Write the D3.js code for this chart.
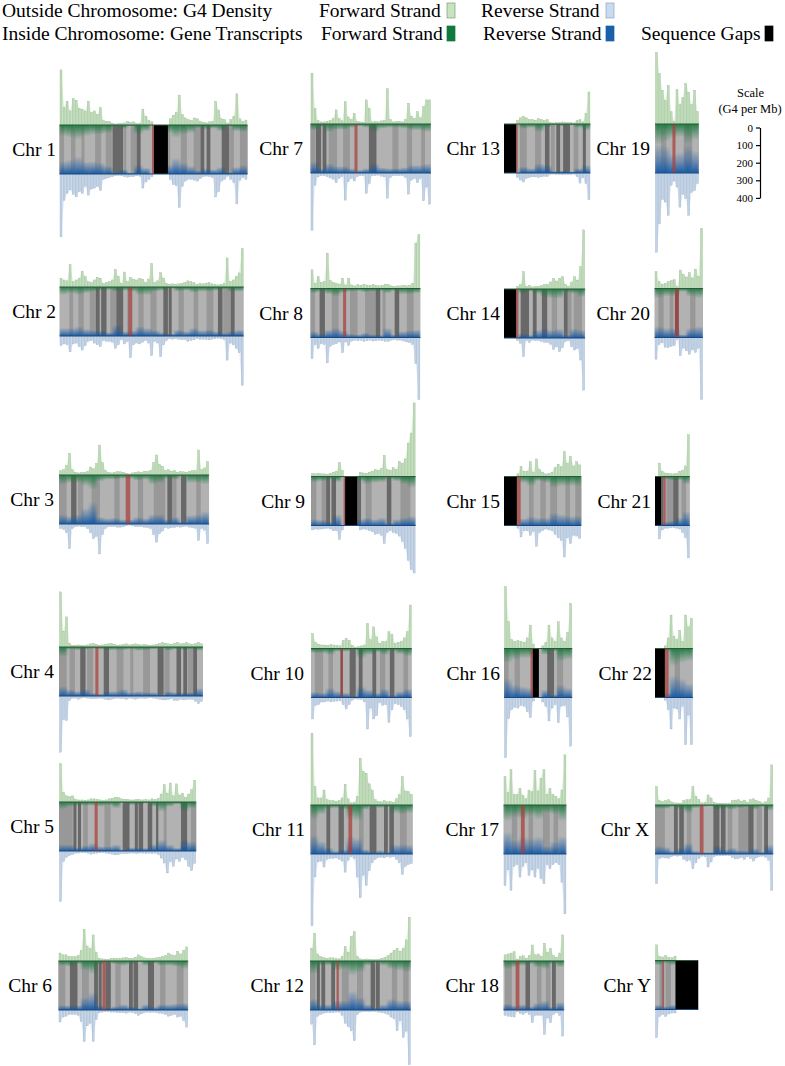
<!DOCTYPE html>
<html>
<head>
<meta charset="utf-8">
<script src="https://cdn.jsdelivr.net/npm/d3@7"></script>
<style>
  body { margin: 0; background: #fff; }
  text { font-family: "Liberation Serif", serif; fill: #000; }
</style>
</head>
<body>
<svg id="chart" width="785" height="1066"></svg>
<script>
var chrNames = ["Chr 1","Chr 2","Chr 3","Chr 4","Chr 5","Chr 6","Chr 7","Chr 8","Chr 9","Chr 10","Chr 11","Chr 12",
  "Chr 13","Chr 14","Chr 15","Chr 16","Chr 17","Chr 18","Chr 19","Chr 20","Chr 21","Chr 22","Chr X","Chr Y"];
var chrLengthMb = [248,243,198,190,181,171,159,145,138,133,135,133,114,107,102,90,83,80,58,64,46,50,156,57];
var centromereMb = [[122,124.5],[91,96],[88,94],[48,52],[47,51],[58,62],[58,62],[43,47],[43,45],[39,42],[50,55],[35,38],
  [16,18],[16,19],[17,22],[35,38],[23,28],[16,21],[23,27],[27,32],[11,14],[13,18],[59,64],[10,12]];
var gapMb = [[124.5,143],[],[],[],[],[],[],[],[45,61],[],[],[],[0,16],[0,16],[0,17],[38,46],[],[],[],[],[0,8],[0,13],[],[27,57]];
var darkBandMb = [
  [[70,84],[102,107],[186,191],[194,199],[214,224]],
  [[48,53],[55,62],[75,84],[90,91],[137,143],[144,148],[209,215],[226,231]],
  [[16,23],[143,149],[161,168]],
  [[28,35],[59,66],[130,138],[155,161],[164,169],[177,182]],
  [[19,23],[25,29],[84,93],[100,104],[105,111],[117,123],[128,131],[161,169]],
  [[15,25],[47,52],[53,57],[62,69],[93,98],[99,105],[118,126]],
  [[7,14],[16,21],[77,87]],
  [[12,19],[86,92],[111,117]],
  [[20,25],[27,33],[61,66],[100,106]],
  [[39,42],[51,59],[63,68],[81,86],[104,110]],
  [[21,26],[37,44],[78,87],[97,102],[104,110]],
  [[9,13],[15,20],[28,33],[80,86],[87,92]],
  [[54,60],[69,74],[78,87],[104,108]],
  [[22,33],[38,43],[50,57],[79,84]],
  [],
  [[57,66]],
  [],
  [[29,35],[64,69]],
  [],
  [[27,32]],
  [[8,11],[24,31]],
  [],
  [[25,30],[32,38],[77,85],[87,93],[123,130],[144,149]],
  [[9,10]]
];
var midBandMb = [
  [[0,6],[15,21],[29,33],[47,55],[61,69],[85,88],[94,102],[143,146],[160,168],[177,186],[225,230],[238,248]],
  [[13,18],[25,32],[40,48],[67,75],[104,111],[120,128],[157,164],[177,183],[194,203],[216,226]],
  [[0,10],[25,32],[43,54],[73,80],[104,111],[125,140],[149,155],[181,187]],
  [[0,10],[14,21],[37,45],[76,85],[94,98],[111,120],[139,146],[170,177]],
  [[0,18],[32,38],[60,68],[138,142],[174,181]],
  [[0,9],[31,40],[75,82],[134,141],[156,165]],
  [[0,6],[24,35],[43,52],[108,116],[127,134],[146,151]],
  [[0,6],[28,37],[52,62],[72,86],[95,99],[127,136]],
  [[0,7],[14,20],[72,80],[118,131]],
  [[5,16],[23,29],[91,98],[122,128]],
  [[0,8],[64,70],[118,127]],
  [[0,7],[42,51],[62,70],[108,115],[123,130]],
  [[21,30],[41,49],[62,67],[92,98]],
  [[63,70],[84,89],[92,103]],
  [[33,39],[48,55],[61,70],[81,87],[94,102]],
  [[0,6],[14,21],[70,78]],
  [[11,18],[33,39],[52,61],[66,72]],
  [[2,11],[44,50],[56,62]],
  [[8,15],[38,49]],
  [[5,12],[20,25],[47,54]],
  [[15,24],[35,41]],
  [[26,33]],
  [[0,13],[42,48],[96,102],[110,123],[134,141]],
  [[6,9],[14,21]]
];
// G4 per Mb, read per ~4 Mb along each chromosome
var g4Forward = [
  [313,100,135,80,150,140,95,90,80,135,70,80,60,100,25,22,20,10,6,8,8,12,20,15,18,8,10,90,50,25,18,0,0,0,0,0,35,55,70,170,60,40,30,25,40,35,20,15,12,18,20,135,85,35,30,10,30,50,177,35,20,28],
  [50,40,35,127,30,40,50,90,60,30,25,40,55,50,20,25,30,40,100,60,20,85,30,55,45,40,50,45,25,45,133,25,35,82,50,20,15,18,15,18,20,25,35,30,25,15,20,18,22,25,18,15,12,15,20,165,30,40,60,80,218],
  [25,30,55,123,30,15,12,15,15,20,45,35,65,170,70,25,15,12,15,20,18,15,10,6,12,15,18,15,22,20,25,70,114,60,50,25,30,22,25,15,20,18,15,22,25,25,142,30,40,76],
  [313,90,171,20,10,10,12,10,8,12,18,20,15,10,12,15,18,20,15,10,12,15,18,12,15,18,14,12,15,12,10,12,15,20,25,22,18,15,22,25,18,20,25,18,15,20,25,18],
  [218,55,35,30,35,15,12,12,10,12,18,18,15,12,8,12,18,22,28,25,18,15,15,12,12,15,14,12,15,12,18,14,20,45,99,50,108,35,103,40,50,25,45,70,124],
  [45,35,35,25,25,25,30,60,180,85,70,148,50,15,12,10,10,15,15,14,15,18,20,15,15,22,35,25,18,15,14,15,18,22,25,30,45,35,30,55,40,60,80],
  [289,89,20,12,12,15,20,30,80,30,18,127,40,25,61,15,12,10,137,89,12,15,12,18,20,200,25,12,15,15,12,25,118,45,30,70,35,99,137,137],
  [106,30,68,35,40,201,45,35,30,25,59,20,59,20,15,22,18,25,20,18,22,18,15,18,25,22,15,12,15,15,18,15,18,30,258,306],
  [18,15,18,15,15,12,18,25,30,80,35,0,0,0,0,0,25,20,18,25,30,40,35,45,120,40,35,50,40,85,75,100,190,247,418],
  [85,35,25,20,20,18,22,20,18,15,45,57,47,18,8,10,15,20,142,50,123,66,30,40,40,95,80,30,35,40,60,95,247],
  [408,105,40,40,85,30,25,25,22,25,40,118,35,12,15,50,266,190,180,120,85,30,20,18,25,18,20,15,35,60,162,80,76,60],
  [72,158,40,25,20,15,18,18,15,12,25,82,50,139,167,25,12,10,12,10,8,8,10,15,20,30,45,60,72,55,72,120,249],
  [0,0,0,0,20,35,44,35,25,25,22,30,25,20,25,8,6,8,8,12,10,8,8,6,20,25,12,60,182],
  [0,0,0,0,15,25,99,15,20,12,15,15,20,25,25,40,60,45,60,70,25,15,40,70,50,127,336],
  [0,0,0,0,15,57,30,30,85,25,100,40,25,15,18,25,50,70,55,142,75,114,60,85,66],
  [351,152,50,40,45,40,35,60,133,25,0,0,15,35,133,60,40,152,60,40,90,256],
  [161,70,200,60,60,95,55,35,85,75,196,80,152,200,60,95,60,50,35,85,285],
  [35,40,45,53,10,25,30,15,30,91,35,40,25,101,50,72,30,20,45,148],
  [407,287,192,135,220,70,15,196,110,150,230,180,110,192,70],
  [95,40,25,30,40,45,50,10,105,80,65,90,60,110,70,342],
  [0,76,30,20,18,15,15,18,30,35,60,237],
  [0,0,0,15,60,190,70,50,104,40,190,123,171],
  [105,25,20,25,30,18,12,12,10,25,30,30,105,50,30,12,15,57,40,15,10,10,10,8,8,25,28,30,22,28,15,30,35,25,20,12,18,40,228],
  [89,22,20,28,18,15,25,0,0,0,0,0,0,0]
];
var g4Reverse = [
  [357,150,110,90,115,130,100,110,70,120,85,80,70,95,30,25,20,15,10,8,10,15,18,15,15,10,12,80,45,30,15,0,0,0,0,0,30,60,65,190,70,40,30,30,35,40,25,15,12,15,20,130,100,40,30,12,30,50,170,35,20,30],
  [55,45,50,90,45,40,60,80,55,30,25,40,50,60,25,30,30,35,70,50,20,45,30,123,50,40,45,35,25,40,112,30,40,118,50,25,15,18,15,18,20,20,30,25,22,15,18,18,20,22,18,15,12,15,20,137,40,50,70,95,280],
  [25,30,50,140,25,15,12,15,15,25,50,84,70,170,60,25,15,15,15,18,18,15,10,6,10,15,15,15,18,20,25,60,103,55,40,20,25,20,20,15,18,15,12,18,20,25,93,25,35,112],
  [319,135,139,25,12,12,18,12,10,12,15,15,15,12,14,18,22,18,15,12,15,15,20,12,15,18,14,12,15,12,10,12,15,18,22,22,20,15,25,25,18,22,20,18,20,30,44,30],
  [287,60,35,25,20,12,12,10,10,12,18,15,12,10,8,12,15,18,22,20,15,15,15,12,12,15,12,12,14,12,15,12,18,40,68,125,60,87,45,59,35,50,87,112,70],
  [68,40,35,25,25,25,30,65,179,90,75,179,55,15,12,10,10,12,12,14,15,15,18,12,15,20,30,22,15,12,14,12,15,18,20,25,35,30,25,40,35,60,97],
  [325,70,22,15,15,20,28,35,55,30,20,154,50,30,45,20,15,15,116,60,15,15,12,18,22,143,25,15,15,15,15,25,120,40,30,55,30,158,80,177],
  [120,40,63,35,40,144,50,40,35,25,87,25,45,20,15,18,15,22,18,15,20,18,15,18,22,22,15,12,15,15,20,25,30,40,148,353],
  [25,20,22,20,18,15,20,30,30,80,25,0,0,0,0,0,25,20,22,30,35,50,45,55,103,40,30,40,45,60,90,130,198,250,270],
  [122,45,40,25,25,20,25,22,20,18,40,65,40,15,8,10,12,25,179,60,122,103,30,45,40,141,70,35,40,50,70,122,222],
  [407,130,45,40,74,30,25,25,22,30,40,103,35,15,25,131,249,120,179,95,50,30,20,18,22,15,18,15,30,50,116,70,60,55],
  [80,198,35,25,18,15,15,15,12,12,30,75,95,118,175,25,12,10,10,10,8,8,12,15,18,25,40,50,118,60,156,120,311],
  [0,0,0,0,25,40,51,30,25,22,22,25,22,18,20,8,6,8,8,10,8,8,8,6,20,57,25,60,152],
  [0,0,0,0,15,30,106,15,25,12,15,15,20,25,25,35,65,50,78,55,20,15,50,68,60,125,296],
  [0,0,0,0,15,65,30,30,55,35,118,40,30,20,25,30,50,70,85,179,70,103,55,60,74],
  [342,120,70,55,60,45,50,80,114,20,0,0,25,50,133,60,40,143,50,45,110,276],
  [179,90,207,70,60,131,70,50,122,90,131,80,141,169,60,84,60,50,60,160,340],
  [30,35,38,40,10,20,25,15,25,72,30,30,30,139,45,72,25,15,30,148],
  [450,289,150,165,241,70,45,80,194,120,146,241,110,100,60],
  [123,40,30,55,57,50,45,10,104,60,75,95,70,85,60,352],
  [0,76,25,15,15,12,12,15,20,40,70,184],
  [0,0,0,15,70,179,60,65,122,50,268,100,268],
  [169,25,20,22,25,15,10,12,10,30,40,35,84,50,25,12,15,74,45,15,10,10,10,8,8,20,28,25,20,30,15,25,40,22,15,12,18,35,207],
  [160,40,30,40,25,20,20,0,0,0,0,0,0,0]
];
// relative transcript density, read per ~10 Mb
var transcriptsForward = [
  [35,40,45,35,30,30,25,6,12,4,30,20,0,0,25,40,30,25,10,15,12,20,5,20,22],
  [25,20,25,20,15,12,10,15,12,15,25,25,15,12,6,15,12,18,15,15,12,8,15,15],
  [30,25,25,35,45,20,15,15,12,12,18,15,30,25,12,15,6,25,25,30],
  [30,8,10,8,6,8,10,10,10,8,12,10,8,5,12,8,10,8,12],
  [22,15,12,12,12,15,10,20,4,10,8,5,15,30,15,8,30,20],
  [15,18,10,30,40,12,6,10,15,10,5,15,8,15,15,18,25],
  [20,10,25,18,18,12,8,12,25,15,12,12,15,20,20,25],
  [15,10,18,25,15,10,8,12,10,8,15,8,18,18,15],
  [18,15,10,18,0,0,15,25,20,18,8,15,25,35],
  [15,15,20,10,10,5,30,20,12,20,8,18,25],
  [45,30,12,10,15,45,50,15,8,10,8,25,30,25],
  [40,15,15,30,25,45,35,15,6,15,25,30,35],
  [0,0,15,12,25,10,5,8,5,12,20],
  [0,0,15,8,15,25,30,30,12,15,25],
  [0,5,20,30,15,20,35,30,30,30],
  [45,35,30,30,0,20,10,40,35],
  [50,40,45,35,45,25,30,50],
  [25,20,15,10,20,25,10,20],
  [65,55,45,40,60,50],
  [30,25,25,10,25,30],
  [0,10,12,12,25],
  [0,10,55,45,40],
  [12,12,6,15,25,10,6,5,15,12,15,10,8,15,6,18],
  [15,8,15,0,0,0]
];
var transcriptsReverse = [
  [40,45,55,40,40,35,25,6,15,5,30,20,0,0,30,50,35,25,12,18,15,22,6,22,28],
  [25,25,30,22,18,18,12,35,15,18,30,25,18,12,8,20,15,25,18,20,15,10,15,20],
  [30,25,30,50,70,22,18,20,15,15,22,18,30,30,15,22,8,28,30,40],
  [30,20,15,22,10,8,15,15,22,12,15,12,12,5,15,12,12,12,25],
  [20,20,12,18,25,15,15,20,5,12,10,10,22,35,20,10,35,30],
  [15,15,15,40,55,15,8,12,18,12,6,18,10,18,18,20,22],
  [35,15,30,22,22,15,10,15,30,18,15,15,18,25,25,30],
  [20,12,25,30,22,12,10,15,10,8,30,10,20,22,25],
  [20,18,12,35,0,0,20,25,20,25,8,20,25,30],
  [18,15,30,20,15,5,35,25,15,28,8,20,28],
  [60,40,20,10,15,55,50,15,8,12,8,30,30,30],
  [35,18,18,30,30,60,40,18,8,18,35,30,30],
  [0,0,20,15,30,25,6,8,5,15,25],
  [0,0,15,10,25,30,25,30,10,30,25],
  [0,5,22,28,25,25,40,35,30,30],
  [60,40,35,30,0,25,10,40,30],
  [70,45,55,50,55,25,40,55],
  [20,15,18,12,22,30,10,25],
  [90,85,60,65,85,70],
  [35,30,30,10,30,35],
  [0,12,15,25,45],
  [0,15,70,60,45],
  [25,22,10,20,35,10,6,6,25,15,20,12,10,18,8,30],
  [15,10,15,0,0,0]
];
var scaleTicks = [0,100,200,300,400];

// layout, measured off the page
var panelLeft = [59.5,59.5,59,59,59,58.5, 310.5,310.5,311,311,310.5,310, 504,504,504,504,503.5,503.5, 655,654.5,655,655,655,655];
var panelTop = [125,287,475,647,802,961, 124,288.5,476.5,648.5,805,961, 124,289,476.5,648.5,805,961, 124,288.5,476.5,648.5,805,960.5];
var labelRight = [56,56,54,54,54,52, 303,303,305,304,305,304, 500,500,500,500,499,499, 650,650,651,652,649,651];
var panelHeight = 49;

var svg = d3.select("#chart");
var defs = svg.append("defs");

function fade(id, color, y1, y2){
  var g = defs.append("linearGradient").attr("id", id).attr("x1",0).attr("x2",0).attr("y1",y1).attr("y2",y2);
  g.append("stop").attr("offset","0%").attr("stop-color",color).attr("stop-opacity",0.95);
  g.append("stop").attr("offset","40%").attr("stop-color",color).attr("stop-opacity",0.55);
  g.append("stop").attr("offset","100%").attr("stop-color",color).attr("stop-opacity",0);
}
fade("fadeGreen","#1a7a3e",0,1);
fade("fadeBlue","#1357a6",1,0);
defs.append("filter").attr("id","soft").attr("x","-5%").attr("width","110%")
  .append("feGaussianBlur").attr("stdDeviation",0.3);
defs.append("filter").attr("id","smear").attr("x","-5%").attr("width","110%")
  .append("feGaussianBlur").attr("stdDeviation","1.3 0");

var xMb = d3.scaleLinear().domain([0,248]).range([0,188]);
var g4Height = d3.scaleLinear().domain([0,400]).range([0,70.4]);
var transcriptDepth = d3.scaleLinear().domain([0,100]).range([0,32]);

function spans(g, rows, cls, color, opacity){
  g.selectAll("rect."+cls).data(rows).join("rect")
    .attr("class",cls)
    .attr("x",function(d){ return xMb(d[0]); })
    .attr("y",0)
    .attr("width",function(d){ return xMb(d[1])-xMb(d[0]); })
    .attr("height",panelHeight)
    .attr("fill",color)
    .attr("fill-opacity",opacity);
}

function g4Marks(g, values, w, cls, sign, fill, edge){
  var base = sign > 0 ? 0 : panelHeight;
  var x = d3.scaleBand().domain(d3.range(values.length)).range([0,w]);
  var y = function(d){ return base - sign*g4Height(d); };
  var area = d3.area()
    .defined(function(d){ return d > 0; })
    .x(function(d,k){ return x(k)+x.bandwidth()/2; })
    .y0(base)
    .y1(y);
  g.append("path").attr("d",area(values)).attr("fill",fill).attr("fill-opacity",0.45);
  var barWidth = Math.min(x.bandwidth(),2);
  g.selectAll("rect."+cls).data(values).join("rect")
    .attr("class",cls)
    .attr("x",function(d,k){ return x(k)+(x.bandwidth()-barWidth)/2; })
    .attr("y",function(d){ return sign > 0 ? y(d) : base; })
    .attr("width",barWidth)
    .attr("height",function(d){ return g4Height(d); })
    .attr("fill",fill)
    .attr("stroke",edge)
    .attr("stroke-width",0.35);
}

function transcriptMarks(g, values, w, cls, sign, url){
  var x = d3.scaleBand().domain(d3.range(values.length)).range([0,w]);
  g.selectAll("rect."+cls).data(values).join("rect")
    .attr("class",cls)
    .attr("x",function(d,k){ return x(k); })
    .attr("y",function(d){ return sign > 0 ? 0 : panelHeight-transcriptDepth(d); })
    .attr("width",x.bandwidth())
    .attr("height",function(d){ return transcriptDepth(d); })
    .attr("fill",url);
}

chrNames.forEach(function(name,i){
  var g = svg.append("g")
    .attr("transform","translate("+panelLeft[i]+","+panelTop[i]+")")
    .attr("filter","url(#soft)");
  var w = xMb(chrLengthMb[i]);

  g4Marks(g, g4Forward[i], w, "g4f", 1, "#bcdcb5", "#98b893");
  g4Marks(g, g4Reverse[i], w, "g4r", -1, "#c0d2e7", "#98adc4");

  g.append("rect").attr("width",w).attr("height",panelHeight).attr("fill","#b2b2b2");
  spans(g, midBandMb[i], "mid", "#989898", 1);
  spans(g, darkBandMb[i], "dark", "#676767", 1);

  defs.append("clipPath").attr("id","panel"+i)
    .append("rect").attr("width",w).attr("height",panelHeight);
  var inner = g.append("g").attr("clip-path","url(#panel"+i+")").append("g").attr("filter","url(#smear)");
  transcriptMarks(inner, transcriptsForward[i], w, "tf", 1, "url(#fadeGreen)");
  transcriptMarks(inner, transcriptsReverse[i], w, "tr", -1, "url(#fadeBlue)");

  spans(g, [centromereMb[i]], "cen", "#a8403c", 0.75);
  spans(g, gapMb[i].length ? [gapMb[i]] : [], "gap", "#000", 1);

  g.append("line").attr("x1",0).attr("x2",w).attr("y1",0).attr("y2",0)
    .attr("stroke","#2c5a3c").attr("stroke-width",1.1);
  g.append("line").attr("x1",0).attr("x2",w).attr("y1",panelHeight).attr("y2",panelHeight)
    .attr("stroke","#1c4a7c").attr("stroke-width",1.1);

  svg.append("text")
    .attr("x",labelRight[i])
    .attr("y",panelTop[i]+panelHeight/2+6.5)
    .attr("text-anchor","end")
    .attr("style","font-size:19.5px")
    .text(name);
});

// legend
var legendText = [
  ["Outside Chromosome: G4 Density",2,17],["Forward Strand",319,17],["Reverse Strand",481,17],
  ["Inside Chromosome: Gene Transcripts",2,40],["Forward Strand",321,40],["Reverse Strand",483,40],["Sequence Gaps",641,40]
];
svg.selectAll("text.legend").data(legendText).join("text")
  .attr("class","legend")
  .attr("x",function(d){ return d[1]; })
  .attr("y",function(d){ return d[2]; })
  .attr("style","font-size:19.5px")
  .text(function(d){ return d[0]; });
var legendSwatch = [
  [447,3,"#c6e5be","#7f9f7c"],[606,3,"#c8dbef","#8ea4bc"],
  [447,26,"#0e7a3b","#0e7a3b"],[606,26,"#1a5fa8","#1a5fa8"],[765,26,"#000","#000"]
];
svg.selectAll("rect.swatch").data(legendSwatch).join("rect")
  .attr("class","swatch")
  .attr("x",function(d){ return d[0]; })
  .attr("y",function(d){ return d[1]; })
  .attr("width",8)
  .attr("height",15)
  .attr("fill",function(d){ return d[2]; })
  .attr("stroke",function(d){ return d[3]; })
  .attr("stroke-width",0.7);

// scale axis
svg.append("text").attr("x",750.5).attr("y",97).attr("text-anchor","middle").attr("style","font-size:12.5px").text("Scale");
svg.append("text").attr("x",750).attr("y",113).attr("text-anchor","middle").attr("style","font-size:12.5px").text("(G4 per Mb)");
var axisY = d3.scaleLinear().domain([0,400]).range([127.5,197.9]);
var axis = svg.append("g").attr("transform","translate(760,0)")
  .call(d3.axisLeft(axisY).tickValues(scaleTicks).tickSize(4).tickSizeOuter(0).tickPadding(3));
axis.selectAll("text").attr("style","font-size:11px;font-family:'Liberation Serif',serif");
axis.selectAll("line,path").attr("stroke","#000").attr("stroke-width",1.2);
</script>
</body>
</html>
